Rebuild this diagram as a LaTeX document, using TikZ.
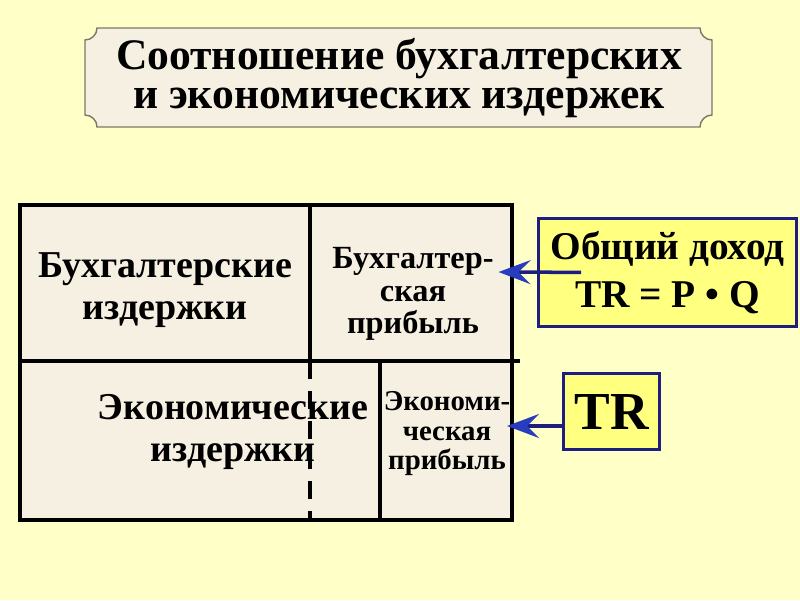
\documentclass[tikz,border=0pt]{standalone}
\usepackage{fontspec}
\setmainfont{Liberation Serif}
\usetikzlibrary{calc, positioning, arrows.meta}
\definecolor{bgyellow}{RGB}{255,255,200}
\definecolor{paper}{RGB}{246,240,226}
\definecolor{plaque}{RGB}{128,118,100}
\definecolor{boxyellow}{RGB}{255,255,128}
\definecolor{navy}{RGB}{30,30,128}
\definecolor{tipblue}{RGB}{40,60,190}

\begin{document}
\begin{tikzpicture}[>={Stealth[length=0.8cm,width=0.6cm,inset=0.3cm,color=tipblue]},
  cell/.style={font=\bfseries, align=center},
  tagbox/.style={draw=navy, line width=2.2pt, fill=boxyellow, font=\bfseries, align=center},
  pointer/.style={->, navy, line width=2.5pt}]
  % background
  \fill[bgyellow] (0,0) rectangle (20,15);
  \useasboundingbox (0,0) rectangle (20,15);
  % title plaque with notched corners
  \draw[plaque, line width=1pt, fill=paper]
    (2.425,14.3) -- (17.5,14.3) arc[start angle=180, end angle=270, radius=0.3]
    -- (17.8,12.125) arc[start angle=90, end angle=180, radius=0.3]
    -- (2.425,11.825) arc[start angle=0, end angle=90, radius=0.3]
    -- (2.125,14.0) arc[start angle=270, end angle=360, radius=0.3] -- cycle;
  \node[cell, font=\bfseries\fontsize{31}{28}\selectfont] (title) at (9.975,13.05)
    {Соотношение бухгалтерских\\и экономических издержек};
  % table
  \fill[paper] (0.5,2.0) rectangle (12.8,9.875);
  \node[cell, font=\bfseries\fontsize{27}{30}\selectfont] (acccost) at (4.125,7.75)
    {Бухгалтерские\\издержки};
  \node[cell, font=\bfseries\fontsize{23}{23}\selectfont] (accprofit) at (10.325,7.65)
    {Бухгалтер-\\ская\\прибыль};
  \node[cell, font=\bfseries\fontsize{27}{30}\selectfont] (ecocost) at (5.825,4.2)
    {Экономические\\издержки};
  \node[cell, font=\bfseries\fontsize{20.5}{21}\selectfont, inner sep=0pt] (ecoprofit) at (11.175,4.15)
    {Экономи-\\ческая\\прибыль};
  \draw[line width=2.5pt] (0.5,2.0) rectangle (12.8,9.875);
  \draw[line width=2.5pt] (0.5,5.975) -- (13.0,5.975);
  \draw[line width=2.5pt] (7.75,9.875) -- (7.75,5.975);
  \draw[line width=2.5pt] (9.5,5.975) -- (9.5,2.0);
  \draw[line width=2.5pt, dash pattern=on 0.45cm off 0.3cm] (7.75,5.975) -- (7.75,2.0);
  % revenue boxes
  \node[tagbox, font=\bfseries\fontsize{28}{34}\selectfont, minimum width=6.45cm, minimum height=2.7cm] (revenue) at (16.69,8.19)
    {Общий доход\\TR = P • Q};
  \node[tagbox, font=\bfseries\fontsize{38}{40}\selectfont, minimum width=2.4cm, minimum height=1.9cm] (tr) at (15.29,4.71)
    {TR};
  % arrows
  \draw[pointer] ([xshift=1.1cm]revenue.west) -- (accprofit.east |- 0,8.2);
  \draw[pointer] (tr.west |- 0,4.35) -- (12.675,4.35);
\end{tikzpicture}
\end{document}
